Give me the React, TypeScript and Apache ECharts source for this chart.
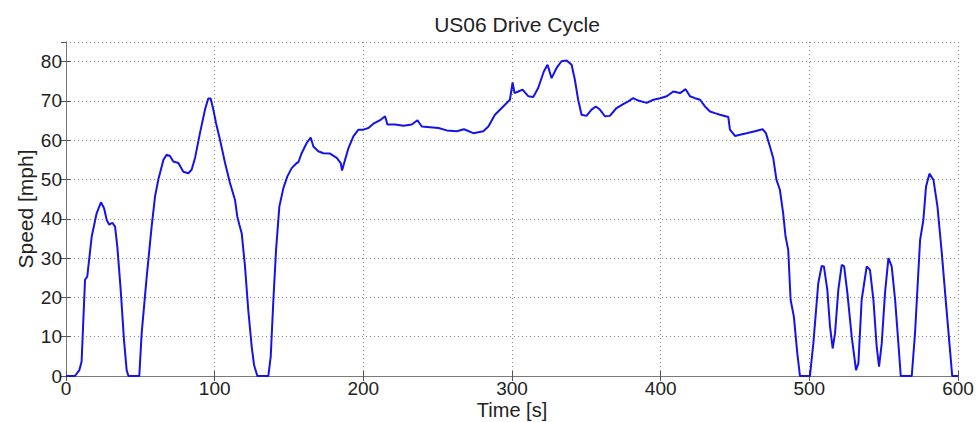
import React, { useEffect, useRef } from "react";
import * as echarts from "echarts";

const timeS: number[] = [
  0, 6, 9, 10.5, 12.8, 14.3, 17.3, 20.6, 23.5, 25.6, 27.4, 29.1, 31.2, 33, 34.5, 36.8, 39, 40.8, 42,
  49.3, 50.9, 54.3, 57.6, 59.9, 62.1, 65.5, 67.7, 69.9, 72.2, 75.6, 78.9, 82.3, 84.5, 86.8, 90.1, 93.5,
  95.7, 97.3, 99.1, 100.9, 103.6, 107, 110.3, 113.7, 115.2, 116.6, 118.2, 120.4, 122.6, 124.9, 126.5,
  128.7, 136.1, 137.7, 139.5, 141.3, 143.5, 146.2, 148.9, 151.8, 155.2, 156.3, 158.5, 161.9, 164.6,
  166.4, 169.7, 173.1, 177.6, 182.1, 184.8, 185.7, 187.1, 190, 193.3, 196.7, 200, 203.4, 206.8, 211.3,
  214.6, 216.2, 221.4, 227, 232.6, 236.4, 239.3, 244.9, 250.5, 256.1, 262.8, 267.7, 274, 280.7, 284.1,
  288.5, 294.1, 298.6, 300.4, 301.7, 304.2, 307.1, 310.9, 314.3, 317.6, 321.4, 323.9, 326.6, 330, 333.3,
  336.7, 340.1, 342.3, 344.5, 346.8, 350.1, 353.5, 356.4, 359.1, 362.5, 365.8, 370.3, 374.8, 378.2,
  381.5, 384.9, 390.6, 395.1, 399.6, 404.1, 408.5, 413, 416.8, 419.7, 423.1, 426.5, 429.8, 433.2, 436.5,
  439.9, 445.5, 446.6, 450, 453.3, 457.8, 463.4, 468.6, 470.8, 473.5, 475.7, 477.9, 480.2, 482.4, 484,
  485.8, 487.4, 489.6, 491.9, 493.7, 500.4, 502.7, 506, 508.3, 509.8, 512.1, 513.9, 515.7, 517.3, 519.5,
  521.8, 523.4, 525.6, 528.5, 531.4, 533, 535.2, 538.6, 540.8, 543.1, 545.3, 546.9, 548.7, 550.9, 553.2,
  555.4, 557.7, 559.9, 561.5, 568.9, 571.1, 574.5, 576.7, 578.5, 580.8, 583.5, 586.2, 589.1, 592.1,
  594.8, 596.1, 600,
];

const speedMph: number[] = [
  0, 0, 1.5, 3.7, 24.5, 25.3, 35.5, 41.4, 44.2, 42.7, 39.7, 38.5, 39, 38, 33, 21.9, 9.2, 1.5, 0,
  0, 10.9, 25.3, 38, 45.7, 50, 55, 56.3, 56, 54.6, 54.2, 52, 51.6, 52.5, 55.5, 61.8, 67.8,
  70.6, 70.6, 67.8, 64.4, 60.1, 54.2, 49.1, 44.8, 40.6, 38.5, 36.3, 27.9, 16.8, 7.5, 2.8,
  0, 0, 4.9, 19.4, 32.1, 43.1, 47.8, 50.8, 52.9, 54.2, 54.4, 56.7, 59.3, 60.7,
  58.4, 57.2, 56.7, 56.6, 55.5, 54.2, 52.3, 54.2, 58, 61, 62.7, 62.7, 63.1, 64.2, 65.1,
  66.1, 64, 64, 63.7, 64, 65.1, 63.5, 63.3, 63.1, 62.5, 62.3, 62.8, 61.8, 62.3, 63.5,
  66.5, 68.6, 70.3, 74.7, 72, 72.4, 72.9, 71.2, 71, 73.3, 77.5, 79.2, 75.8, 78.4, 80.1,
  80.3, 79.2, 75.4, 70.3, 66.5, 66.2, 67.8, 68.6, 67.8, 66.1, 66.2, 68.2, 69.2, 69.9,
  70.7, 70.1, 69.5, 70.3, 70.7, 71.2, 72.4, 72, 73, 71.2, 70.7, 70.3, 68.6, 67.3, 66.9,
  66.5, 65.9, 62.7, 61.1, 61.4, 61.8, 62.3, 62.8, 61.8, 58.4, 55.5, 49.9, 47.4, 41.4, 35.5,
  32.1, 19.4, 15.1, 5.8, 0, 0, 8.3, 23.6, 28, 27.9, 21.9, 12.6, 7, 10.9, 21.9,
  28.3, 27.9, 21.1, 10, 1.5, 3.2, 19.4, 27.9, 27, 19.4, 7.5, 2.4, 8.3, 21.1, 30,
  27.9, 19.4, 8.3, 0, 0, 10.9, 34.6, 39.7, 48.2, 51.5, 49.9, 43.1, 31.3, 17.7,
  5.8, 0, 0,
];

const chartTitle = "US06 Drive Cycle";
const xAxisName = "Time [s]";
const yAxisName = "Speed [mph]";

export default function App() {
  const ref = useRef<HTMLDivElement>(null);
  useEffect(() => {
    if (!ref.current) return;
    const chart = echarts.init(ref.current, undefined, { renderer: "svg" });
    const font = "Liberation Sans, Arial, sans-serif";
    const frame = { show: true, lineStyle: { color: "#7a7a7a", width: 1 } };
    const grid = {
      left: 66,
      right: 19,
      top: 42,
      bottom: 46,
      containLabel: false,
      outerBoundsMode: "none",
    };
    chart.setOption({
      animation: false,
      backgroundColor: "#ffffff",
      title: {
        text: chartTitle,
        left: 512,
        textAlign: "center",
        top: 9,
        textStyle: { fontFamily: font, fontSize: 21, fontWeight: "normal", color: "#222" },
      },
      grid,
      xAxis: [
        {
          type: "value",
          min: 0,
          max: 600,
          interval: 100,
          position: "bottom",
          name: xAxisName,
          nameLocation: "middle",
          nameGap: 24,
          nameMoveOverlap: false,
          nameTextStyle: { fontFamily: font, fontSize: 20, color: "#222" },
          axisLine: frame,
          axisTick: { show: true, inside: true, length: 5, lineStyle: { color: "#555" } },
          axisLabel: { fontFamily: font, fontSize: 19, color: "#222", margin: 3 },
          splitLine: { show: true, lineStyle: { type: [1, 3], color: "#8a8a8a", width: 1 } },
        },
        {
          type: "value",
          min: 0,
          max: 600,
          interval: 100,
          position: "top",
          axisLine: frame,
          axisTick: { show: true, inside: true, length: 5, lineStyle: { color: "#555" } },
          axisLabel: { show: false },
          splitLine: { show: false },
        },
      ],
      yAxis: [
        {
          type: "value",
          min: 0,
          max: 85,
          interval: 10,
          position: "left",
          name: yAxisName,
          nameLocation: "middle",
          nameGap: 30,
          nameMoveOverlap: false,
          nameTextStyle: { fontFamily: font, fontSize: 21, color: "#222" },
          axisLine: frame,
          axisTick: { show: true, inside: true, length: 5, lineStyle: { color: "#555" } },
          axisLabel: {
            fontFamily: font,
            fontSize: 19,
            color: "#222",
            margin: 4,
            showMaxLabel: false,
            formatter: (v: number) => (v > 80 ? "" : String(v)),
          },
          splitLine: { show: true, lineStyle: { type: [1, 3], color: "#8a8a8a", width: 1 } },
        },
        {
          type: "value",
          min: 0,
          max: 85,
          interval: 10,
          position: "right",
          axisLine: frame,
          axisTick: { show: true, inside: true, length: 5, lineStyle: { color: "#555" } },
          axisLabel: { show: false },
          splitLine: { show: false },
        },
      ],
      series: [
        {
          type: "line",
          xAxisIndex: 0,
          yAxisIndex: 0,
          data: timeS.map((t, i) => [t, speedMph[i]]),
          showSymbol: false,
          symbol: "none",
          lineStyle: { color: "#1414ea", width: 2 },
          itemStyle: { color: "#1414ea" },
        },
      ],
    });
    return () => chart.dispose();
  }, []);
  return (
    <div
      ref={ref}
      style={{ width: 977, height: 422, position: "absolute", left: 0, top: 0 }}
    />
  );
}
